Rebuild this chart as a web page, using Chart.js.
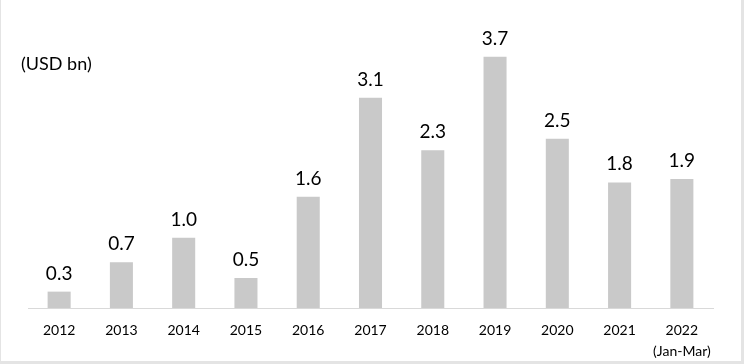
<!DOCTYPE html>
<html>
<head>
<meta charset="utf-8">
<script src="https://cdn.jsdelivr.net/npm/chart.js@4"></script>
<style>
  html, body { margin: 0; padding: 0; background: #fff; }
  #wrap { position: relative; width: 744px; height: 364px; }
</style>
</head>
<body>
<div id="wrap"><canvas id="chart" width="744" height="364"></canvas></div>
<script>
const years = ["2012", "2013", "2014", "2015", "2016", "2017", "2018", "2019", "2020", "2021", ["2022", "(Jan-Mar)"]];
const investment = [0.24, 0.67, 1.03, 0.44, 1.63, 3.08, 2.31, 3.68, 2.48, 1.84, 1.89];
const valueLabels = ["0.3", "0.7", "1.0", "0.5", "1.6", "3.1", "2.3", "3.7", "2.5", "1.8", "1.9"];
const unitLabel = "(USD bn)";

const FONT = "Lato, 'Liberation Sans', sans-serif";

// value labels over bars, unit text and the thin frame
const extras = {
  id: "extras",
  afterDatasetsDraw(chart) {
    const ctx = chart.ctx;
    const meta = chart.getDatasetMeta(0);
    ctx.save();
    ctx.fillStyle = "#000";
    ctx.font = "19px " + FONT;
    ctx.textAlign = "center";
    ctx.textBaseline = "alphabetic";
    meta.data.forEach((bar, i) => {
      ctx.fillText(valueLabels[i], bar.x, bar.y - 12);
    });
    ctx.font = "18px " + FONT;
    ctx.textAlign = "left";
    ctx.textBaseline = "middle";
    ctx.fillText(unitLabel, 21, 64);

    ctx.fillStyle = "#e4e4e4";
    ctx.fillRect(0, 0, 1, 364);
    ctx.fillRect(741, 0, 3, 364);
    ctx.fillRect(0, 361, 744, 3);
    ctx.restore();
  }
};

new Chart(document.getElementById("chart"), {
  type: "bar",
  data: {
    labels: years,
    datasets: [{
      data: investment,
      backgroundColor: "#c9c9c9",
      borderWidth: 0,
      categoryPercentage: 1,
      barPercentage: 0.37
    }]
  },
  options: {
    responsive: false,
    animation: false,
    layout: { padding: { left: 28, right: 31, top: 35, bottom: 0 } },
    plugins: { legend: { display: false }, tooltip: { enabled: false } },
    scales: {
      x: {
        grid: { display: false, drawTicks: false },
        border: { display: true, color: "#d9d9d9", width: 1 },
        ticks: {
          color: "#000",
          font: { family: FONT, size: 14, lineHeight: 1.5 },
          padding: 12,
          maxRotation: 0,
          autoSkip: false
        },
        afterFit(scale) { scale.height = 56; }
      },
      y: { display: false, min: 0, max: 4 }
    }
  },
  plugins: [extras]
});
</script>
</body>
</html>
